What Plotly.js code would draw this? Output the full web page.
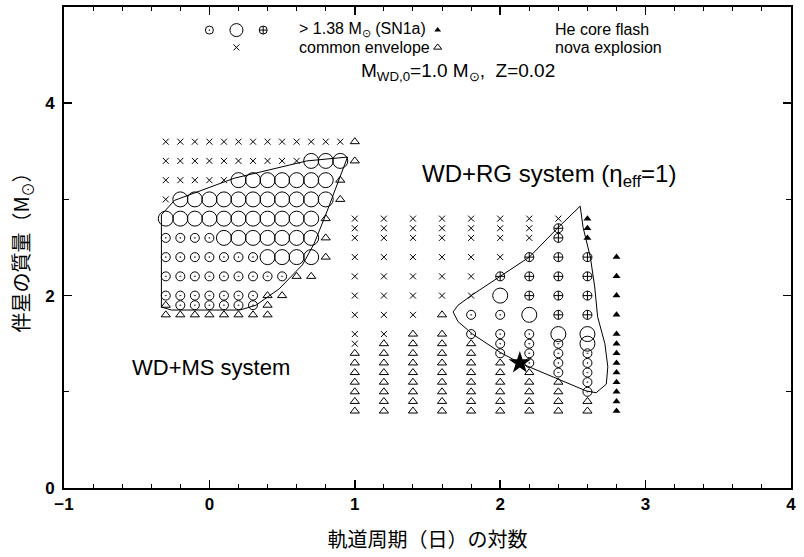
<!DOCTYPE html>
<html>
<head>
<meta charset="utf-8">
<script src="https://cdn.plot.ly/plotly-3.0.1.min.js"></script>
<style>html,body{margin:0;padding:0;background:#fff}#chart{width:804px;height:557px}</style>
</head>
<body>
<div id="chart"></div>
<script>
// ---- Data: WD+MS grid (log P [d], companion mass [Msun]) ----
// codes: x = common envelope, o = >1.38 (small dotted circle), O = >1.38 (large circle),
//        p = >1.38 (circle with plus), t = nova explosion, f = He core flash, . = none
const msLogP = [-0.3, -0.2, -0.1, 0.0, 0.1, 0.2, 0.3, 0.4, 0.5, 0.6, 0.7, 0.8, 0.9, 1.0];
const msMass = [3.6, 3.4, 3.2, 3.0, 2.8, 2.6, 2.4, 2.2, 2.0, 1.9, 1.8];
const msOutcome = [
  "xxxxxxxxxxxxxt",
  "xxxxxxxxxxOOOt",
  "xxxxxOOOOOOOt.",
  "xOOOOOOOOOOOt.",
  "OOOOOOOOOOOt..",
  "ooooOOOOOOOt..",
  "oooooooOOOOt..",
  "ooooooooott...",
  "ooooooott.....",
  "toooooot......",
  "tttttttt......"
];

// ---- Data: WD+RG grid ----
const rgLogP = [1.0, 1.2, 1.4, 1.6, 1.8, 2.0, 2.2, 2.4, 2.6, 2.8];
const rgMass = [2.8, 2.7, 2.6, 2.4, 2.2, 2.0, 1.8, 1.6, 1.5, 1.4, 1.3, 1.2, 1.1, 1.0, 0.9, 0.8];
const rgOutcome = [
  "xxxxxxxxf.",
  "xxxxxxxpf.",
  "xxxxxxxpf.",
  "xxxxxxpppf",
  "xxxxxppppf",
  "xxxxxOpppf",
  "xxxtooOppf",
  "xxttoooOOf",
  "xttttoooOf",
  "tttttoooof",
  "ttttttooof",
  "tttttttoof",
  "ttttttttof",
  "ttttttttof",
  "tttttttttf",
  "tttttttttf"
];

// ---- Data: region boundaries ----
const msBoundX = [-0.33, -0.33, -0.26, 0.21, 0.32, 0.48, 0.64, 0.72, 0.80, 0.95, 0.67, 0.17, -0.24, -0.33];
const msBoundY = [2.84, 1.88, 1.85, 1.85, 1.90, 2.07, 2.32, 2.54, 2.84, 3.44, 3.40, 3.22, 2.99, 2.84];
const rgBoundX = [2.55, 2.40, 2.20, 2.00, 1.81, 1.71, 1.676, 1.71, 1.81, 2.00, 2.135, 2.59, 2.66, 2.73, 2.74, 2.72, 2.67, 2.65, 2.62, 2.57, 2.55];
const rgBoundY = [2.93, 2.71, 2.40, 2.20, 2.01, 1.90, 1.83, 1.73, 1.60, 1.41, 1.30, 1.01, 0.99, 1.08, 1.26, 1.50, 1.78, 2.09, 2.40, 2.71, 2.93];

// ---- Data: the marked system (star) ----
const starLogP = [2.135];
const starMass = [1.30];

// ---- Styles ----
const symbolStyle = {
  x: {symbol: 'x-thin-open', size: 6, line: {width: 1, color: '#000'}},
  o: {symbol: 'circle-open-dot', size: 9, line: {width: 1, color: '#000'}},
  O: {symbol: 'circle-open', size: 15, line: {width: 1, color: '#000'}},
  p: {symbol: 'circle-cross-open', size: 9, line: {width: 1, color: '#000'}},
  t: {symbol: 'triangle-up-open', size: 8, line: {width: 1, color: '#000'}},
  f: {symbol: 'triangle-up', size: 7, color: '#000', line: {width: 0}}
};

function gridTraces(logP, mass, codes) {
  const groups = {};
  codes.forEach((row, i) => {
    for (let j = 0; j < row.length; j++) {
      const c = row[j];
      if (c === '.') continue;
      if (!groups[c]) groups[c] = {x: [], y: []};
      groups[c].x.push(logP[j]);
      groups[c].y.push(mass[i]);
    }
  });
  return Object.keys(groups).map(c => ({
    type: 'scatter', mode: 'markers', x: groups[c].x, y: groups[c].y,
    marker: Object.assign({color: '#000'}, symbolStyle[c]), hoverinfo: 'x+y', showlegend: false
  }));
}

const traces = [];
traces.push({type: 'scatter', mode: 'lines', x: msBoundX, y: msBoundY, line: {color: '#000', width: 1}, showlegend: false});
traces.push({type: 'scatter', mode: 'lines', x: rgBoundX, y: rgBoundY, line: {color: '#000', width: 1}, showlegend: false});
traces.push(...gridTraces(msLogP, msMass, msOutcome));
traces.push(...gridTraces(rgLogP, rgMass, rgOutcome));
traces.push({type: 'scatter', mode: 'markers', x: starLogP, y: starMass,
  marker: {symbol: 'star', size: 17, color: '#000'}, showlegend: false});

// ---- Key (legend) glyphs placed in the top of the frame ----
const keyPos = {
  o: [0.0, 4.76], O: [0.186, 4.76], p: [0.37, 4.76],
  x: [0.186, 4.58], f: [1.57, 4.76], t: [1.57, 4.58]
};
const keySize = {o: 8, O: 13, p: 8, x: 6, f: 6, t: 7};
Object.keys(keyPos).forEach(c => {
  traces.push({type: 'scatter', mode: 'markers', x: [keyPos[c][0]], y: [keyPos[c][1]],
    marker: Object.assign({color: '#000'}, symbolStyle[c], {size: keySize[c]}),
    hoverinfo: 'skip', showlegend: false});
});

const txtFont = {family: "'Liberation Sans', Arial, sans-serif", size: 16, color: '#000'};
const annotations = [
  {x: 0.6, y: 4.765, text: '&gt; 1.38 M<sub>⊙</sub> (SN1a)', xanchor: 'left', height: 17},
  {x: 0.6, y: 4.575, text: 'common envelope', xanchor: 'left', height: 17},
  {x: 2.36, y: 4.765, text: 'He core flash', xanchor: 'left', height: 17},
  {x: 2.36, y: 4.575, text: 'nova explosion', xanchor: 'left', height: 17},
  {x: 1.71, y: 4.32, text: 'M<sub>WD,0</sub>=1.0 M<sub>⊙</sub>,  Z=0.02', xanchor: 'center', font: {size: 19}},
  {x: 2.335, y: 3.25, text: 'WD+RG system (η<sub>eff</sub>=1)', xanchor: 'center', font: {size: 24}},
  {x: 0.014, y: 1.25, text: 'WD+MS system', xanchor: 'center', font: {size: 22}}
].map(a => Object.assign({xref: 'x', yref: 'y', showarrow: false, yanchor: 'middle'}, a,
  {font: Object.assign({}, txtFont, a.font || {})}));

const tickFont = {family: "'Liberation Sans', Arial, sans-serif", size: 17, color: '#000', weight: 'bold'};
const titleFont = {family: "'Noto Sans CJK JP', sans-serif", size: 20, color: '#000'};

const layout = {
  width: 804, height: 557,
  margin: {l: 64, r: 13, t: 7, b: 69},
  paper_bgcolor: '#fff', plot_bgcolor: '#fff',
  showlegend: false,
  xaxis: {
    range: [-1, 4], dtick: 1, tick0: 0,
    showgrid: false, zeroline: false,
    showline: true, linecolor: '#000', linewidth: 2, mirror: 'ticks',
    ticks: 'inside', ticklen: 8, tickwidth: 1.5, tickcolor: '#000',
    minor: {dtick: 0.2, ticks: 'inside', ticklen: 4, tickwidth: 1, tickcolor: '#000', showgrid: false},
    tickfont: tickFont, ticklabelstandoff: 0,
    title: {text: '軌道周期（日）の対数', font: titleFont, standoff: 20}
  },
  yaxis: {
    range: [0, 5], dtick: 2, tick0: 0,
    showgrid: false, zeroline: false,
    showline: true, linecolor: '#000', linewidth: 2, mirror: 'ticks',
    ticks: 'inside', ticklen: 8, tickwidth: 1.5, tickcolor: '#000',
    minor: {dtick: 1, ticks: 'inside', ticklen: 5, tickwidth: 1, tickcolor: '#000', showgrid: false},
    tickfont: tickFont, ticklabelstandoff: 4,
    title: {text: '伴星の質量（M<sub>⊙</sub>）', font: titleFont, standoff: 10}
  },
  annotations: annotations
};

Plotly.newPlot('chart', traces, layout, {displayModeBar: false, staticPlot: true});
</script>
</body>
</html>
